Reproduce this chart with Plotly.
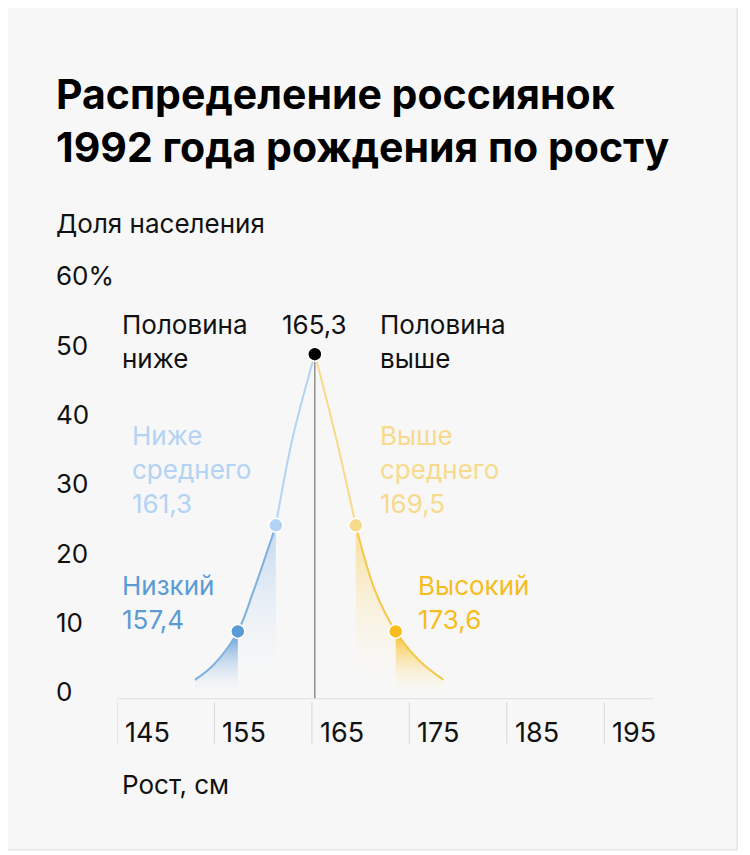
import plotly.graph_objects as go

# кривая распределения (рост, доля %)
height = [153, 155, 157.4, 159, 161.3, 163, 165.3, 167.5, 169.5, 171.5, 173.6, 176, 178.5]
share = [1.7, 4.0, 8.7, 14.5, 24.0, 36.5, 48.7, 36.5, 24.0, 14.5, 8.7, 4.5, 1.7]
x_ticks = [145, 155, 165, 175, 185, 195]
y_ticks = [0, 10, 20, 30, 40, 50, 60]

median = 165.3
low, below, above, high = 157.4, 161.3, 169.5, 173.6
BASE = -1.0
FONT = "Inter, Noto Sans, sans-serif"

BLUE_D = "#5b9bd5"
BLUE_L = "#b3d3f4"
YEL_D = "#f7bd1e"
YEL_L = "#f8da8c"


def seg(a, b):
    pts = [(h, s) for h, s in zip(height, share) if a <= h <= b]
    return [p[0] for p in pts], [p[1] for p in pts]


fig = go.Figure()


def fill(a, b, color):
    xs, ys = seg(a, b)
    fig.add_trace(go.Scatter(x=xs, y=[BASE] * len(xs), mode="lines",
                             line=dict(width=0), hoverinfo="skip"))
    fig.add_trace(go.Scatter(x=xs, y=ys, mode="lines", line=dict(width=0, shape="spline"),
                             fill="tonexty", hoverinfo="skip",
                             fillgradient=dict(type="vertical",
                                               colorscale=[[0, "rgba(255,255,255,0)"], [1, color]])))


fill(153, low, "rgba(80,145,210,0.95)")
fill(low, below, "rgba(150,190,230,0.55)")
fill(above, high, "rgba(248,210,110,0.7)")
fill(high, 178.5, "rgba(247,189,30,1)")


def line(a, b, color):
    xs, ys = seg(a, b)
    fig.add_trace(go.Scatter(x=xs, y=ys, mode="lines", line=dict(color=color, width=2, shape="spline"),
                             hoverinfo="skip"))


line(153, below, "#7fb0e0")
line(below, median, BLUE_L)
line(median, above, YEL_L)
line(above, 178.5, "#f5c848")

# вертикаль медианы
fig.add_trace(go.Scatter(x=[median, median], y=[BASE, share[height.index(median)]], mode="lines",
                         line=dict(color="#777", width=1.2), hoverinfo="skip"))

# точки
pts = [(low, BLUE_D), (below, BLUE_L), (median, "#000"), (above, YEL_L), (high, YEL_D)]
for h, c in pts:
    fig.add_trace(go.Scatter(x=[h], y=[share[height.index(h)]], mode="markers",
                             marker=dict(size=14, color=c, line=dict(color="white", width=1.5)),
                             hoverinfo="skip"))

shapes = [dict(type="rect", xref="paper", yref="paper", x0=-0.3, x1=1.157, y0=-0.342, y1=2.0,
               line=dict(color="#e6e6e6", width=1.5), fillcolor="#f7f7f7", layer="below"),
          dict(type="line", xref="paper", yref="y", x0=0, x1=1, y0=BASE, y1=BASE,
               line=dict(color="#e0e0e0", width=1))]
ann = []
for t in x_ticks:
    shapes.append(dict(type="line", xref="x", yref="paper", x0=t, x1=t, y0=-0.1, y1=-0.005,
                       line=dict(color="#d6d6d6", width=1)))
    ann.append(dict(x=t + 0.6, y=-0.075, xref="x", yref="paper", text=str(t), showarrow=False,
                    xanchor="left", yanchor="middle", font=dict(size=27, color="#111")))
for v in y_ticks:
    ann.append(dict(x=-0.118, y=v, xref="paper", yref="y", text=f"{v}%" if v == 60 else str(v),
                    showarrow=False, xanchor="left", yanchor="middle", font=dict(size=26, color="#111")))


def txt(x, y, s, color, anchor="left"):
    ann.append(dict(x=x, y=y, xref="x", yref="y", text=s, showarrow=False, xanchor=anchor,
                    yanchor="top", align="left", font=dict(size=26, color=color)))


txt(145.3, 55.5, "Половина<br>ниже", "#111")
txt(median, 55.5, "165,3", "#111", "center")
txt(171.8, 55.5, "Половина<br>выше", "#111")
txt(146.3, 39.5, "Ниже<br>среднего<br>161,3", BLUE_L)
txt(145.3, 17.8, "Низкий<br>157,4", BLUE_D)
txt(171.8, 39.5, "Выше<br>среднего<br>169,5", YEL_L)
txt(175.7, 17.8, "Высокий<br>173,6", YEL_D)

ann.append(dict(x=-0.118, y=1.445, xref="paper", yref="paper", text="<b>Распределение россиянок<br>1992 года рождения по росту</b>",
                showarrow=False, xanchor="left", yanchor="top", align="left",
                font=dict(size=41, color="#000")))
ann.append(dict(x=-0.118, y=1.087, xref="paper", yref="paper", text="Доля населения", showarrow=False,
                xanchor="left", yanchor="middle", font=dict(size=26, color="#111")))
ann.append(dict(x=0.005, y=-0.194, xref="paper", yref="paper", text="Рост, см", showarrow=False,
                xanchor="left", yanchor="middle", font=dict(size=26, color="#111")))

fig.update_layout(
    width=750, height=855, showlegend=False,
    margin=dict(l=109, r=105, t=254, b=163),
    paper_bgcolor="#ffffff", plot_bgcolor="rgba(0,0,0,0)",
    font=dict(family=FONT),
    xaxis=dict(range=[145, 200], visible=False, fixedrange=True),
    yaxis=dict(range=[-1.2, 62], visible=False, fixedrange=True),
    shapes=shapes, annotations=ann,
)

fig.write_html("out.html")
